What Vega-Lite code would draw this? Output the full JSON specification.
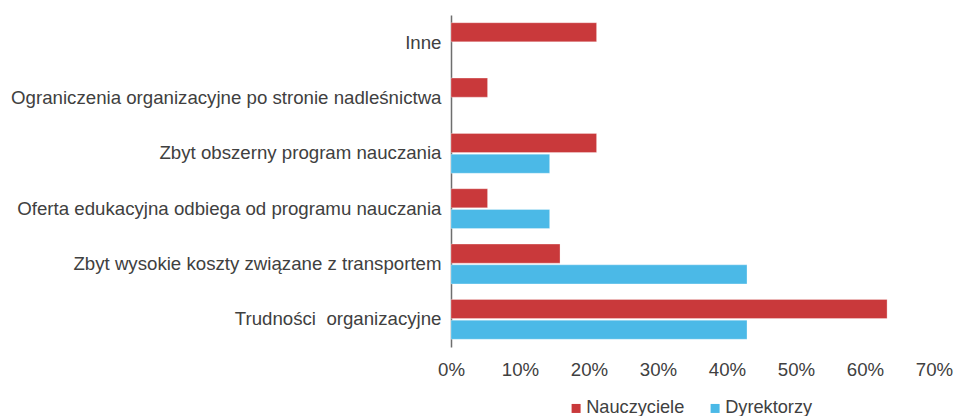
{
  "$schema": "https://vega.github.io/schema/vega-lite/v6.json",
  "autosize": "none",
  "width": 483,
  "height": 332,
  "padding": {"left": 451, "top": 15, "right": 25, "bottom": 69},
  "background": "white",
  "config": {
    "font": "Liberation Sans",
    "view": {"stroke": null}
  },
  "data": {
    "values": [
      {"kategoria": "Inne", "grupa": "Nauczyciele", "wartosc": 0.211},
      {"kategoria": "Ograniczenia organizacyjne po stronie nadleśnictwa", "grupa": "Nauczyciele", "wartosc": 0.053},
      {"kategoria": "Zbyt obszerny program nauczania", "grupa": "Nauczyciele", "wartosc": 0.211},
      {"kategoria": "Zbyt obszerny program nauczania", "grupa": "Dyrektorzy", "wartosc": 0.143},
      {"kategoria": "Oferta edukacyjna odbiega od programu nauczania", "grupa": "Nauczyciele", "wartosc": 0.053},
      {"kategoria": "Oferta edukacyjna odbiega od programu nauczania", "grupa": "Dyrektorzy", "wartosc": 0.143},
      {"kategoria": "Zbyt wysokie koszty związane z transportem", "grupa": "Nauczyciele", "wartosc": 0.158},
      {"kategoria": "Zbyt wysokie koszty związane z transportem", "grupa": "Dyrektorzy", "wartosc": 0.429},
      {"kategoria": "Trudności\u00a0 organizacyjne", "grupa": "Nauczyciele", "wartosc": 0.632},
      {"kategoria": "Trudności\u00a0 organizacyjne", "grupa": "Dyrektorzy", "wartosc": 0.429}
    ]
  },
  "mark": {"type": "bar", "stroke": "#ffffff", "strokeOpacity": 0.5, "strokeWidth": 0.6},
  "encoding": {
    "y": {
      "field": "kategoria",
      "type": "nominal",
      "scale": {
        "domain": [
          "Inne",
          "Ograniczenia organizacyjne po stronie nadleśnictwa",
          "Zbyt obszerny program nauczania",
          "Oferta edukacyjna odbiega od programu nauczania",
          "Zbyt wysokie koszty związane z transportem",
          "Trudności\u00a0 organizacyjne"
        ],
        "paddingInner": 0.28,
        "paddingOuter": 0.14
      },
      "axis": {
        "title": null,
        "ticks": false,
        "domain": true,
        "domainColor": "#6e6e6e",
        "domainWidth": 1.5,
        "labelFontSize": 18.67,
        "labelColor": "#404040",
        "labelPadding": 10,
        "labelLimit": 500
      }
    },
    "yOffset": {
      "field": "grupa",
      "type": "nominal",
      "scale": {"domain": ["Nauczyciele", "Dyrektorzy"], "paddingInner": 0.08, "paddingOuter": 0}
    },
    "x": {
      "field": "wartosc",
      "type": "quantitative",
      "scale": {"domain": [0, 0.7], "nice": false},
      "axis": {
        "title": null,
        "values": [0, 0.1, 0.2, 0.3, 0.4, 0.5, 0.6, 0.7],
        "format": ".0%",
        "grid": false,
        "ticks": false,
        "domain": false,
        "labelFontSize": 18.67,
        "labelColor": "#404040",
        "labelPadding": 13,
        "labelFlush": false
      }
    },
    "color": {
      "field": "grupa",
      "type": "nominal",
      "scale": {"domain": ["Nauczyciele", "Dyrektorzy"], "range": ["#C9393B", "#4BB9E7"]},
      "legend": {
        "title": null,
        "orient": "none",
        "direction": "horizontal",
        "legendX": 116,
        "legendY": 384,
        "symbolType": "square",
        "symbolSize": 81,
        "symbolStrokeWidth": 0,
        "labelFontSize": 18.2,
        "labelColor": "#404040",
        "columnPadding": 21,
        "labelOffset": 1
      }
    }
  }
}
